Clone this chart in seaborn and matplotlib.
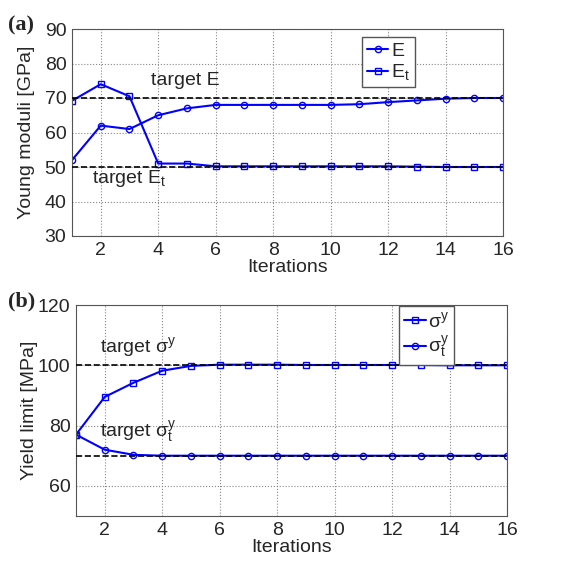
import matplotlib
matplotlib.use("Agg")
import matplotlib.pyplot as plt
import seaborn as sns
import pandas as pd
import numpy as np

iterations = list(range(1, 17))
E_vals = [52, 62, 61, 65, 67, 68, 68, 68, 68, 68, 68.2, 68.8, 69.3, 69.8, 70, 70]
Et_vals = [69.2, 74, 70.5, 51, 51, 50.2, 50.2, 50.2, 50.2, 50.2, 50.2, 50.2, 50.1, 50, 50, 50]
sig_vals = [77, 89.5, 94.2, 98.2, 99.8, 100.2, 100.2, 100.2, 100.1, 100.1, 100.1, 100.1, 100.1, 100, 100, 100]
sigt_vals = [77, 72, 70.3, 70, 70, 70, 70, 70, 70, 70, 70, 70, 70, 70, 70, 70]
target_E, target_Et = 70, 50
target_sig, target_sigt = 100, 70
xticks = [2, 4, 6, 8, 10, 12, 14, 16]

sns.set_theme(style="white")
plt.rcParams['font.family'] = ['Liberation Sans', 'DejaVu Sans']
plt.rcParams['mathtext.fontset'] = 'custom'
plt.rcParams['mathtext.rm'] = 'Liberation Sans'
plt.rcParams['mathtext.it'] = 'Liberation Sans'

fig = plt.figure(figsize=(5.77, 5.64), dpi=100)
ax1 = fig.add_axes([72/577, 1-236/564, 431/577, 207/564])
ax2 = fig.add_axes([76/577, 1-516/564, 431/577, 211/564])

blue = '#0000ff'
fs = 14

def style(ax, ylim, yticks):
    ax.set_xlim(1, 16)
    ax.set_ylim(*ylim)
    ax.set_xticks(xticks)
    ax.set_yticks(yticks)
    ax.grid(True, color='#888888', linestyle=':', linewidth=0.8)
    for s in ax.spines.values():
        s.set_color('#555555')
        s.set_linewidth(0.8)
    ax.tick_params(labelsize=fs, length=0, pad=4)
    ax.set_xlabel('Iterations', fontsize=fs, labelpad=0)

df1 = pd.DataFrame({'it': iterations * 2,
                    'val': E_vals + Et_vals,
                    'series': ['E'] * 16 + ['$\\mathregular{E_t}$'] * 16})
sns.lineplot(data=df1, x='it', y='val', hue='series', style='series',
             markers=['o', 's'], dashes=False, palette=[blue, blue],
             ax=ax1, linewidth=1.5, markersize=4.5, markerfacecolor='none',
             markeredgecolor=blue, markeredgewidth=1.0)
ax1.axhline(target_E, color='black', linestyle='--', linewidth=1.2, zorder=3)
ax1.axhline(target_Et, color='black', linestyle='--', linewidth=1.2, zorder=3)
style(ax1, (30, 90), [30, 40, 50, 60, 70, 80, 90])
ax1.set_ylabel('Young moduli [GPa]', fontsize=14)
ax1.yaxis.set_label_coords(-0.086, 0.50)
ax1.text(3.75, 72.5, 'target E', fontsize=fs, ha='left', va='bottom')
ax1.text(1.7, 43.5, 'target $\\mathregular{E_t}$', fontsize=fs, ha='left', va='bottom')
leg1 = ax1.legend(loc='upper left', bbox_to_anchor=(0.673, 0.961), fontsize=fs,
                  handlelength=1.1, handletextpad=0.15, borderpad=0.25,
                  labelspacing=0.15, borderaxespad=0, fancybox=False, framealpha=1)
leg1.get_frame().set_edgecolor('#555555')
fig.text(8/577, 1-30/564, '(a)', fontsize=16, fontweight='bold', family='Liberation Serif')

df2 = pd.DataFrame({'it': iterations * 2,
                    'val': sig_vals + sigt_vals,
                    'series': ['$\\mathregular{\\sigma^y}$'] * 16 + ['$\\mathregular{\\sigma^y_t}$'] * 16})
sns.lineplot(data=df2, x='it', y='val', hue='series', style='series',
             markers=['s', 'o'], dashes=False, palette=[blue, blue],
             ax=ax2, linewidth=1.5, markersize=4.5, markerfacecolor='none',
             markeredgecolor=blue, markeredgewidth=1.0)
ax2.axhline(target_sig, color='black', linestyle='--', linewidth=1.2, zorder=3)
ax2.axhline(target_sigt, color='black', linestyle='--', linewidth=1.2, zorder=3)
style(ax2, (50, 120), [60, 80, 100, 120])
ax2.set_ylabel('Yield limit [MPa]', fontsize=14)
ax2.yaxis.set_label_coords(-0.088, 0.50)
ax2.text(1.85, 102, 'target $\\mathregular{\\sigma^y}$', fontsize=fs, ha='left', va='bottom')
ax2.text(1.85, 73.5, 'target $\\mathregular{\\sigma^y_t}$', fontsize=fs, ha='left', va='bottom')
leg2 = ax2.legend(loc='upper left', bbox_to_anchor=(0.75, 0.995), fontsize=fs,
                  handlelength=1.1, handletextpad=0.15, borderpad=0.25,
                  labelspacing=0.15, borderaxespad=0, fancybox=False, framealpha=1)
leg2.get_frame().set_edgecolor('#555555')
fig.text(8/577, 1-306/564, '(b)', fontsize=16, fontweight='bold', family='Liberation Serif')

fig.savefig('out.png', dpi=100)
